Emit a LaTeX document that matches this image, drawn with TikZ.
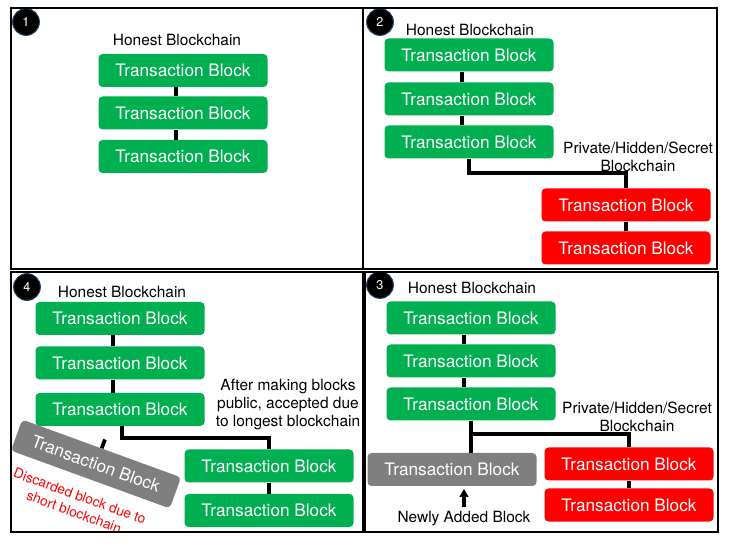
\documentclass[tikz,border=0pt]{standalone}
\usepackage{fontspec}
\setmainfont{TeX Gyre Heros}
\usetikzlibrary{calc,arrows.meta}

\definecolor{blockgreen}{HTML}{00B050}
\definecolor{blockred}{HTML}{FF0000}
\definecolor{blockgray}{HTML}{7F7F7F}
\definecolor{badgeedge}{HTML}{1F3A5F}

\begin{document}
\begin{tikzpicture}[x=0.75pt, y=-0.75pt,
    txblock/.style={fill=blockgreen, text=white, rounded corners=3pt,
                    minimum width=126.75pt, minimum height=24.75pt,
                    inner sep=0pt, font=\fontsize{12.9}{15}\selectfont},
    hidblock/.style={txblock, fill=blockred},
    oldblock/.style={txblock, fill=blockgray},
    chainlink/.style={draw=black, line width=2.8pt},
    upar/.style={line width=2.4pt, -{Triangle[length=6pt, width=6.5pt]}},
    lbl/.style={font=\fontsize{11.6}{14}\selectfont, align=center, inner sep=0pt},
    badge/.style={circle, fill=black, draw=badgeedge, line width=0.8pt,
                  minimum size=20pt, inner sep=0pt, text=white,
                  font=\fontsize{9.5}{10}\selectfont},
    panel/.style={draw=black, line width=2pt},
]
\useasboundingbox (0,0) rectangle (729,545);

% Panel 1
\node[badge] (n1) at (26,22) {1};
\node[lbl] (t1) at (177,40) {Honest Blockchain};
\node[txblock] (h11) at (183,70.5) {Transaction Block};
\node[txblock] (h12) at (183,113) {Transaction Block};
\node[txblock] (h13) at (183,156.5) {Transaction Block};
\draw[chainlink] ([xshift=-5pt]h11.south) -- ([xshift=-5pt]h12.north);
\draw[chainlink] ([xshift=-5pt]h12.south) -- ([xshift=-5pt]h13.north);

% Panel 2
\node[badge] (n2) at (380,22) {2};
\node[lbl] (t2) at (470,30) {Honest Blockchain};
\node[txblock] (h21) at (469,55) {Transaction Block};
\node[txblock] (h22) at (469,99) {Transaction Block};
\node[txblock] (h23) at (469,142) {Transaction Block};
\node[hidblock] (s21) at (626,205) {Transaction Block};
\node[hidblock] (s22) at (626,248) {Transaction Block};
\node[lbl] (pv2) at (638,157) {Private/Hidden/Secret\\Blockchain};

\draw[chainlink] ([xshift=-5pt]h21.south) -- ([xshift=-5pt]h22.north);
\draw[chainlink] ([xshift=-5pt]h22.south) -- ([xshift=-5pt]h23.north);
\coordinate (j2) at (469,173);
\draw[chainlink] (h23.south) -- (j2) -| (s21.north);
\draw[chainlink] (s21.south) -- (s22.north);

% Panel 3
\node[badge] (n3b) at (380,285) {3};
\node[lbl] (t3) at (472,288) {Honest Blockchain};
\node[txblock] (h31) at (471,318) {Transaction Block};
\node[txblock] (h32) at (471,361) {Transaction Block};
\node[txblock] (h33) at (471,404) {Transaction Block};
\node[oldblock] (n3) at (452,469.5) {Transaction Block};
\node[hidblock] (s31) at (629,464) {Transaction Block};
\node[hidblock] (s32) at (629,505) {Transaction Block};
\node[lbl] (pv3) at (637,417) {Private/Hidden/Secret\\Blockchain};
\node[lbl] (newlbl) at (464,519) {Newly Added Block};

\draw[chainlink] ([xshift=-5pt]h31.south) -- ([xshift=-5pt]h32.north);
\draw[chainlink] ([xshift=-5pt]h32.south) -- ([xshift=-5pt]h33.north);
\coordinate (j3) at (471,434);
\draw[chainlink] (h33.south) -- (j3) -| (s31.north);
\draw[chainlink] (j3) -- (j3 |- n3.north);
\draw[chainlink] (s31.south) -- (s32.north);
\draw[upar, shorten <=3pt, shorten >=2pt] (newlbl.north) -- (newlbl.north |- n3.south);

% Panel 4
\node[badge] (n4) at (27,287) {4};
\node[lbl] (t4) at (122,292) {Honest Blockchain};
\node[txblock] (h41) at (120,318.5) {Transaction Block};
\node[txblock] (h42) at (120,363) {Transaction Block};
\node[txblock] (h43) at (120,409.5) {Transaction Block};
\node[txblock] (g41) at (269,466) {Transaction Block};
\node[txblock] (g42) at (269,510.5) {Transaction Block};
\node[lbl, font=\fontsize{11.6}{13.5}\selectfont] (pub4) at (288,405)
    {After making blocks\\public, accepted due\\to longest blockchain};

\draw[chainlink] ([xshift=-5pt]h41.south) -- ([xshift=-5pt]h42.north);
\draw[chainlink] ([xshift=-5pt]h42.south) -- ([xshift=-5pt]h43.north);
\coordinate (j4) at (122,438);
\draw[chainlink] (h43.south -| j4) -- (j4) -| (g41.north);
\draw[chainlink] (g41.south) -- (g42.north);

% discarded block
\node[oldblock, rotate=-20] (d4) at (96,464) {Transaction Block};
\coordinate (d4stub) at ($(d4.north)!-7pt!(d4.center)$);
\draw[chainlink] (d4.north) -- (d4stub);
\node[lbl, text=blockred, font=\fontsize{10.3}{12.75}\selectfont, rotate=-20]
    (disc4) at (77,504) {Discarded block due to\\short blockchain};

% Frames
\draw[panel] (11,8) rectangle (363,269);
\draw[panel] (363,8) rectangle (717,269);
\draw[panel] (11,272) rectangle (363,532);
\draw[panel] (365,272) rectangle (718,532);

\end{tikzpicture}
\end{document}
